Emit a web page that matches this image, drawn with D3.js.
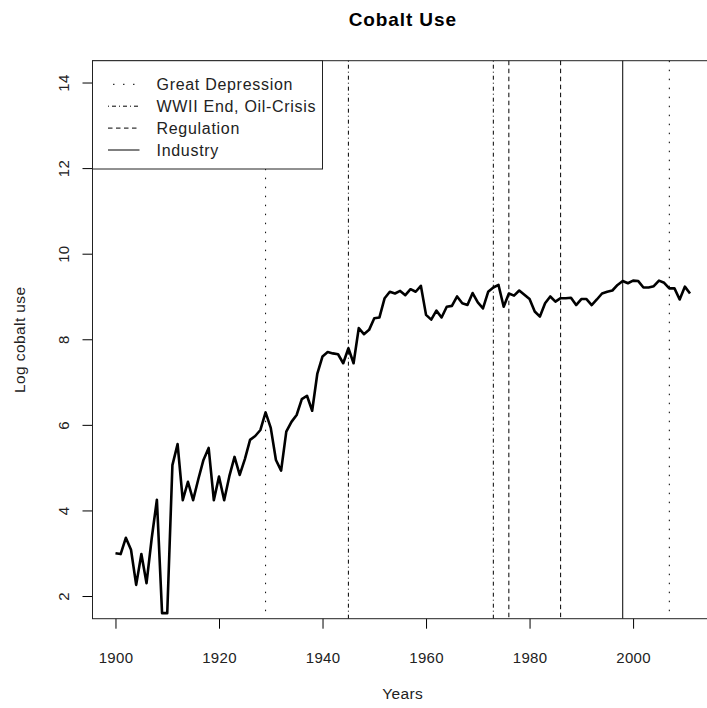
<!DOCTYPE html>
<html>
<head>
<meta charset="utf-8">
<script src="https://cdn.jsdelivr.net/npm/d3@7"></script>
<style>
  html, body { margin: 0; padding: 0; background: #fff; }
  svg { display: block; font-family: 'Liberation Sans', Arial, sans-serif; }
</style>
</head>
<body>
<div id="chart"></div>
<script>
const START_YEAR = 1900,
      COBALT_USE = [
        3.0, 2.98, 3.36, 3.08, 2.26, 2.98, 2.3, 3.35, 4.25, 1.6,
        1.6, 5.06, 5.55, 4.24, 4.67, 4.24, 4.73, 5.18, 5.46, 4.24,
        4.79, 4.24, 4.8, 5.25, 4.83, 5.2, 5.65, 5.74, 5.88, 6.29,
        5.93, 5.18, 4.93, 5.84, 6.07, 6.23, 6.6, 6.68, 6.33, 7.2,
        7.6, 7.7, 7.67, 7.65, 7.44, 7.79, 7.44, 8.26, 8.12, 8.22,
        8.49, 8.51, 8.96, 9.11, 9.07, 9.13, 9.03, 9.17, 9.11, 9.25,
        8.57, 8.46, 8.67, 8.51, 8.76, 8.78, 9.0, 8.84, 8.8, 9.08,
        8.86, 8.72, 9.11, 9.21, 9.27, 8.76, 9.07, 9.02, 9.14, 9.04,
        8.94, 8.65, 8.53, 8.84, 9.0, 8.88, 8.96, 8.96, 8.97, 8.8,
        8.94, 8.94, 8.8, 8.93, 9.07, 9.11, 9.14, 9.27, 9.36, 9.31,
        9.37, 9.36, 9.21, 9.21, 9.24, 9.37, 9.32, 9.19, 9.19, 8.93,
        9.23, 9.07
      ],
      EVENT_YEARS = [1929, 2007, 1945, 1973, 1976, 1986, 1998],
      EVENT_KINDS = ['dotted', 'dotted', 'dotdash', 'dotdash', 'dashed', 'dashed', 'solid'],
      LEGEND_LABELS = ['Great Depression', 'WWII End, Oil-Crisis', 'Regulation', 'Industry'],
      LEGEND_KINDS = ['dotted', 'dotdash', 'dashed', 'solid'],
      X_TICKS = [1900, 1920, 1940, 1960, 1980, 2000],
      Y_TICKS = [2, 4, 6, 8, 10, 12, 14]

const SIZE = Object.freeze({ WIDTH: 707, HEIGHT: 708 }),
      PLOT = Object.freeze({ LEFT: 92.5, RIGHT: 713, TOP: 60.7, BOTTOM: 618.7 }),
      DASHES = Object.freeze({
        dotted: '1.5,7.5',
        dotdash: '1,3,4,3',
        dashed: '4.5,3.5',
        solid: null
      })

const series = COBALT_USE.map((v, i) => ({ year: START_YEAR + i, value: v }))

const xScale = d3.scaleLinear()
        .domain([1895.56, 2015.44])
        .range([PLOT.LEFT, PLOT.RIGHT]),
      yScale = d3.scaleLinear()
        .domain([1.47, 14.51])
        .range([PLOT.BOTTOM, PLOT.TOP])

const svg = d3.select('#chart')
  .append('svg')
  .attr('width', SIZE.WIDTH)
  .attr('height', SIZE.HEIGHT)

// title
svg.append('text')
  .attr('x', (PLOT.LEFT + PLOT.RIGHT) / 2)
  .attr('y', 26)
  .attr('text-anchor', 'middle')
  .style('font-size', '19px')
  .style('font-weight', 'bold')
  .style('letter-spacing', '0.9px')
  .text('Cobalt Use')

// axes
const xAxis = d3.axisBottom(xScale)
  .tickValues(X_TICKS)
  .tickFormat(d3.format('d'))
  .tickSize(10)
  .tickPadding(24)

const yAxis = d3.axisLeft(yScale)
  .tickValues(Y_TICKS)
  .tickSize(10)
  .tickPadding(0)

const gx = svg.append('g')
  .attr('transform', `translate(0, ${PLOT.BOTTOM})`)
  .call(xAxis)
gx.select('.domain').remove()
gx.selectAll('text')
  .style('font-size', '15px')
  .style('letter-spacing', '0.3px')
  .attr('fill', '#222')

const gy = svg.append('g')
  .attr('transform', `translate(${PLOT.LEFT}, 0)`)
  .call(yAxis)
gy.select('.domain').remove()
gy.selectAll('text')
  .attr('x', null)
  .attr('dy', null)
  .attr('text-anchor', 'middle')
  .attr('transform', 'translate(-24, 0) rotate(-90)')
  .style('font-size', '15px')
  .style('letter-spacing', '0.3px')
  .attr('fill', '#222')

svg.append('text')
  .attr('x', (PLOT.LEFT + PLOT.RIGHT) / 2)
  .attr('y', 699)
  .attr('text-anchor', 'middle')
  .style('font-size', '15.5px')
  .style('letter-spacing', '0.4px')
  .attr('fill', '#222')
  .text('Years')

svg.append('text')
  .attr('transform', `translate(25, ${(PLOT.TOP + PLOT.BOTTOM) / 2}) rotate(-90)`)
  .attr('text-anchor', 'middle')
  .style('font-size', '15.5px')
  .style('letter-spacing', '0.4px')
  .attr('fill', '#222')
  .text('Log cobalt use')

// event lines
svg.selectAll('line.event')
  .data(EVENT_YEARS)
  .enter()
  .append('line')
  .attr('class', 'event')
  .attr('x1', d => xScale(d))
  .attr('x2', d => xScale(d))
  .attr('y1', PLOT.TOP)
  .attr('y2', PLOT.BOTTOM)
  .attr('stroke', '#000')
  .attr('stroke-width', 1)
  .attr('stroke-dasharray', (d, i) => DASHES[EVENT_KINDS[i]])

// data line
const line = d3.line()
  .x(d => xScale(d.year))
  .y(d => yScale(d.value))

svg.append('path')
  .datum(series)
  .attr('fill', 'none')
  .attr('stroke', '#000')
  .attr('stroke-width', 2.6)
  .attr('stroke-linejoin', 'round')
  .attr('d', line)

// plot box
svg.append('rect')
  .attr('x', PLOT.LEFT)
  .attr('y', PLOT.TOP)
  .attr('width', PLOT.RIGHT - PLOT.LEFT)
  .attr('height', PLOT.BOTTOM - PLOT.TOP)
  .attr('fill', 'none')
  .attr('stroke', '#222')
  .attr('stroke-width', 1)

// legend
const legend = svg.append('g')
  .attr('transform', `translate(${PLOT.LEFT}, ${PLOT.TOP})`)

legend.append('rect')
  .attr('width', 230)
  .attr('height', 108.3)
  .attr('fill', '#fff')
  .attr('stroke', '#222')
  .attr('stroke-width', 1)

const rows = legend.selectAll('g.row')
  .data(LEGEND_LABELS)
  .enter()
  .append('g')
  .attr('class', 'row')
  .attr('transform', (d, i) => `translate(0, ${23.6 + i * 21.9})`)

rows.append('line')
  .attr('x1', 15.5)
  .attr('x2', 47)
  .attr('stroke', '#000')
  .attr('stroke-width', 1)
  .attr('stroke-dasharray', (d, i) => LEGEND_KINDS[i] === 'dotted' ? '1.5,8.5' : DASHES[LEGEND_KINDS[i]])
  .attr('stroke-dashoffset', (d, i) => LEGEND_KINDS[i] === 'dotted' ? 5 : 0)

rows.append('text')
  .attr('x', 64)
  .attr('dy', '0.35em')
  .style('font-size', '16px')
  .style('letter-spacing', '0.7px')
  .attr('fill', '#222')
  .text(d => d)
</script>
</body>
</html>
